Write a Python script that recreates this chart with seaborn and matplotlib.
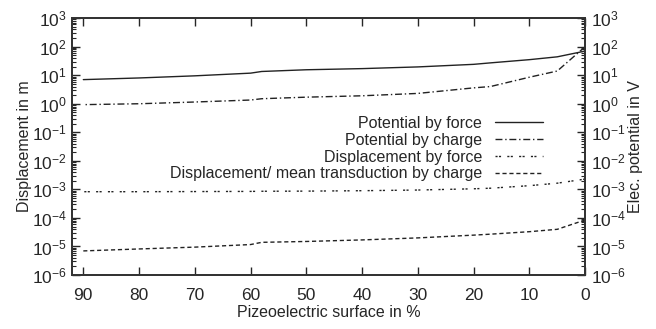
import numpy as np
import pandas as pd
import matplotlib
matplotlib.use("Agg")
import matplotlib.pyplot as plt
import matplotlib.ticker as mticker
import seaborn as sns

# values (surface in %, log-scaled quantities)
surface = [90, 80, 70, 60, 58, 50, 40, 30, 20, 17, 10, 5, 0]
pot_force = [7.0, 8.0, 9.5, 11.8, 13.5, 15.5, 17.0, 19.5, 24.0, 27.0, 35.0, 44.0, 70.0]
pot_charge = [0.93, 1.0, 1.15, 1.35, 1.5, 1.7, 1.9, 2.3, 3.6, 4.0, 8.5, 14.0, 100.0]
disp_force = [8.3e-4, 8.3e-4, 8.4e-4, 8.5e-4, 8.6e-4, 8.7e-4, 9.0e-4, 9.5e-4, 1.05e-3, 1.1e-3, 1.35e-3, 1.65e-3, 2.3e-3]
disp_charge = [7.0e-6, 8.2e-6, 9.5e-6, 1.17e-5, 1.4e-5, 1.5e-5, 1.7e-5, 2.0e-5, 2.5e-5, 2.7e-5, 3.3e-5, 4.0e-5, 8.5e-5]

labels = ["Potential by force", "Potential by charge",
          "Displacement by force", "Displacement/ mean transduction by charge"]
series = [pot_force, pot_charge, disp_force, disp_charge]
dash_styles = [None, (5, 2, 1, 2), (1.5, 1, 1.5, 4.5), (3, 2)]

sns.set_style("ticks")
plt.rcParams['font.family'] = ['Liberation Sans', 'DejaVu Sans']

fig = plt.figure(figsize=(6.56, 3.29), dpi=100)
ax = fig.add_axes([0.110, 0.164, 0.782, 0.781])

for lab, vals, ds in zip(labels, series, dash_styles):
    df = pd.DataFrame({"x": surface, "y": vals})
    sns.lineplot(data=df, x="x", y="y", ax=ax, color="#222222", lw=1.0, label=lab)
    if ds is not None:
        ax.lines[-1].set_dashes(ds)

fs = 11.5
tfs = 12.5
ax.set_yscale("log")
ax.set_ylim(1e-6, 1e3)
ax.set_xlim(92, 0)
ax.set_xticks([90, 80, 70, 60, 50, 40, 30, 20, 10, 0])
ax.yaxis.set_major_locator(mticker.LogLocator(base=10, numticks=20))
ax.yaxis.set_minor_locator(mticker.LogLocator(base=10, subs=np.arange(2, 10), numticks=20))
ax.yaxis.set_minor_formatter(mticker.NullFormatter())
ax.set_xlabel("Pizeoelectric surface in %", fontsize=fs, labelpad=2)
ax.set_ylabel("Displacement in m", fontsize=fs, labelpad=0)
ax.tick_params(axis="both", which="both", direction="in", top=True, labelsize=tfs, pad=4)
ax.tick_params(axis="x", pad=9)
ax.tick_params(axis="y", which="major", length=6, width=1)
ax.tick_params(axis="y", which="minor", length=3, width=0.8)
ax.tick_params(axis="x", which="major", length=6, width=1)

ax2 = ax.twinx()
ax2.set_yscale("log")
ax2.set_ylim(1e-6, 1e3)
ax2.yaxis.set_major_locator(mticker.LogLocator(base=10, numticks=20))
ax2.yaxis.set_minor_locator(mticker.LogLocator(base=10, subs=np.arange(2, 10), numticks=20))
ax2.yaxis.set_minor_formatter(mticker.NullFormatter())
ax2.set_ylabel("Elec. potential in V", fontsize=fs, labelpad=2)
ax2.tick_params(axis="y", which="both", direction="in", labelsize=tfs, pad=4)
ax2.tick_params(axis="y", which="major", length=6, width=1)
ax2.tick_params(axis="y", which="minor", length=3, width=0.8)
ax.tick_params(axis="y", which="both", right=False)

for a in (ax, ax2):
    for s in a.spines.values():
        s.set_linewidth(1.3)
        s.set_color("#333333")

leg = ax.legend(loc="upper right", bbox_to_anchor=(0.93, 0.645), frameon=False,
                markerfirst=False, fontsize=fs, handlelength=3.0,
                labelspacing=0.12, handletextpad=0.8, borderaxespad=0)

fig.savefig("out.png", dpi=100)
